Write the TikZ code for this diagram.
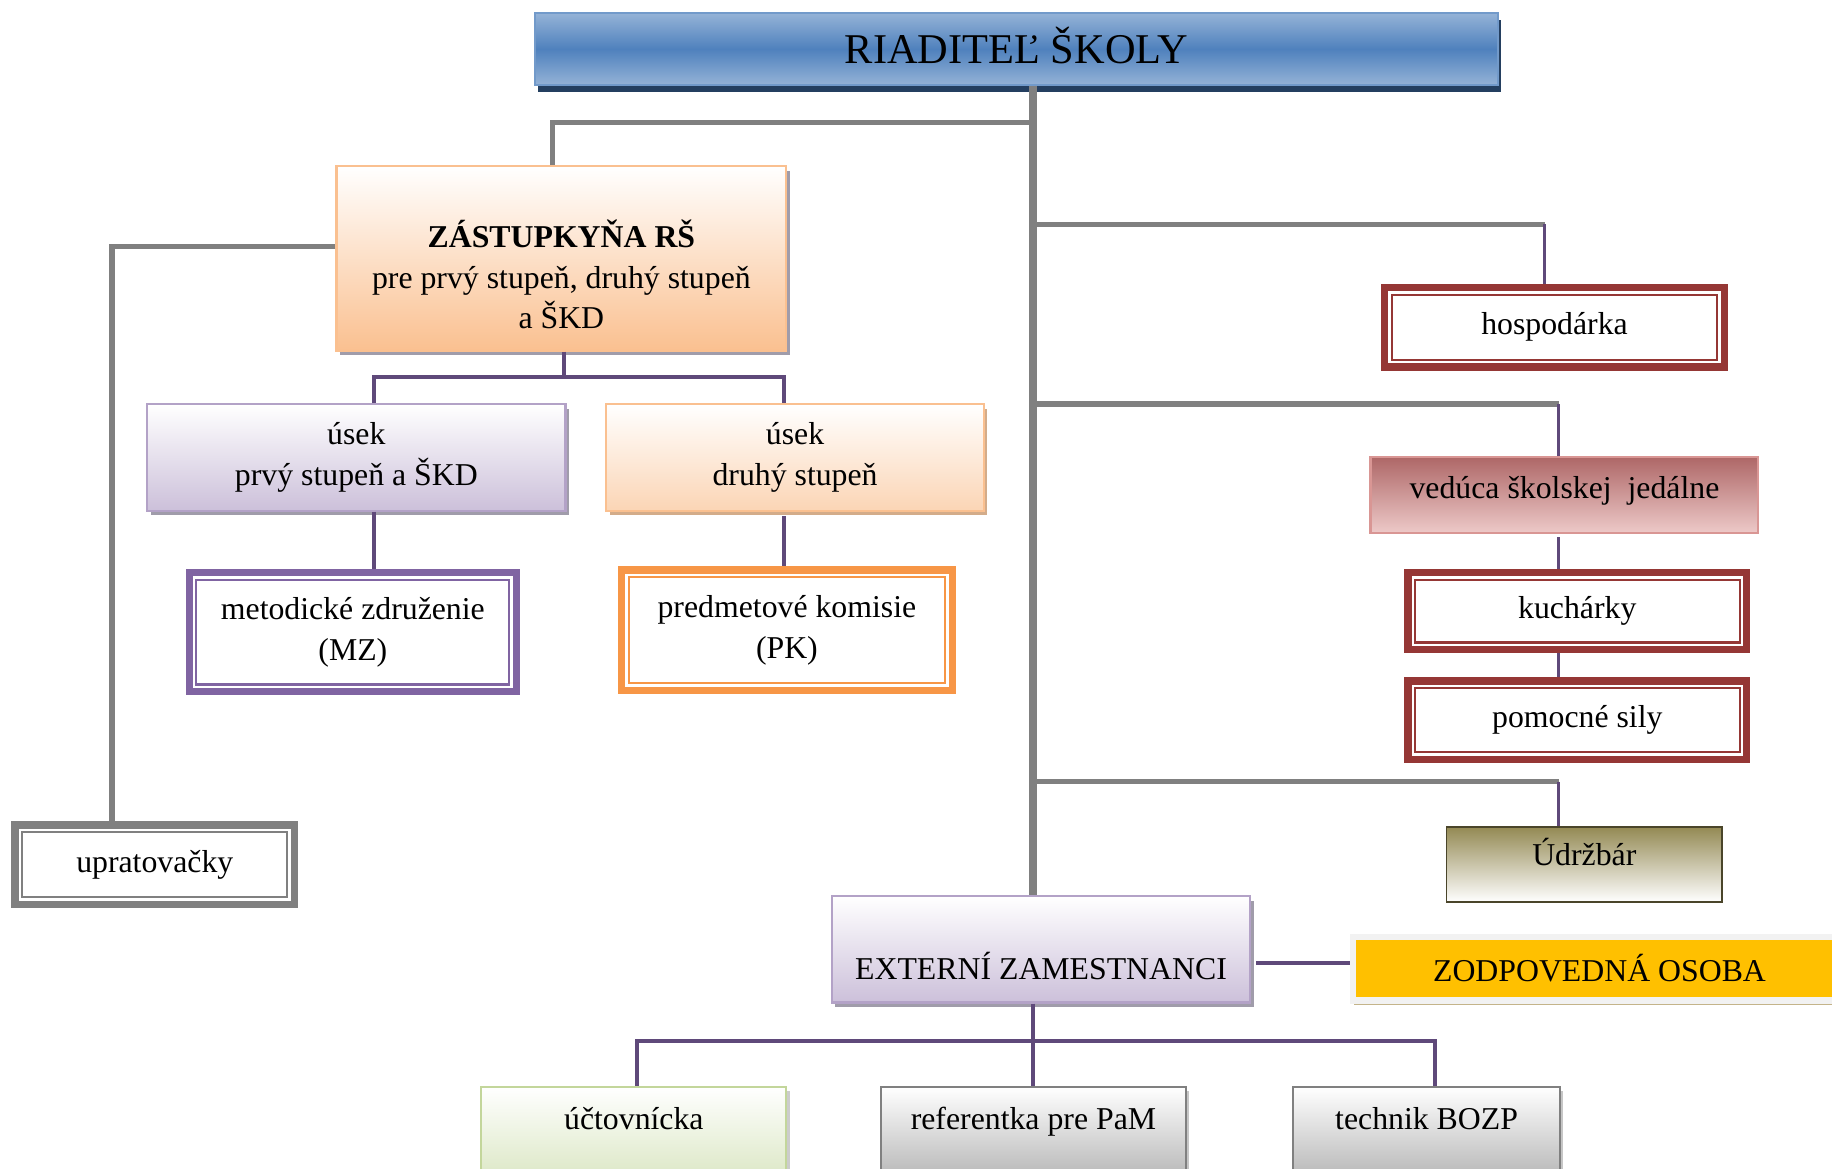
\documentclass[tikz,border=0pt]{standalone}
\usepackage{fontspec}
\setmainfont{Liberation Serif}
\usetikzlibrary{positioning, shadows}

\definecolor{titleblue}{HTML}{4F81BD}
\definecolor{titlelight}{HTML}{95B3D7}
\definecolor{titleshadow}{HTML}{243F60}
\definecolor{peach}{HTML}{FAC090}
\definecolor{peachlight}{HTML}{FBD5B5}
\definecolor{lavender}{HTML}{CCC0DA}
\definecolor{lavenderline}{HTML}{B3A2C7}
\definecolor{boxshadow}{HTML}{A09CAA}
\definecolor{tanshadow}{HTML}{D3AC8A}
\definecolor{violet}{HTML}{8064A2}
\definecolor{orange}{HTML}{F79646}
\definecolor{darkred}{HTML}{953735}
\definecolor{rosetop}{HTML}{AE6767}
\definecolor{rosebottom}{HTML}{EDC9C8}
\definecolor{roseline}{HTML}{D99694}
\definecolor{olive}{HTML}{948A54}
\definecolor{oliveline}{HTML}{4A452A}
\definecolor{gold}{HTML}{FFC000}
\definecolor{goldshadow}{HTML}{C4B48A}
\definecolor{greenlight}{HTML}{D7E4BD}
\definecolor{greenline}{HTML}{C3D69B}
\definecolor{midgray}{HTML}{808080}
\definecolor{purp}{HTML}{5F497A}

\def\px{0.0155cm}

\begin{document}
\begin{tikzpicture}[x=0.0155cm, y=-0.0155cm,
  font=\fontsize{12}{15.4}\selectfont,
  every node/.style={align=center, inner sep=0pt},
  sz/.style 2 args={minimum width=#1*\px, minimum height=#2*\px},
  shadebox/.style n args={3}{draw=#1, line width=0.8pt, top color=white, bottom color=#2,
    drop shadow={shadow xshift=1.3pt, shadow yshift=-1.8pt, fill=#3, opacity=1}},
  dblbox/.style={draw=#1, line width=2.8pt, fill=white,
    path picture={\draw[#1, line width=0.8pt]
      ([shift={(2.7pt,2.7pt)}]path picture bounding box.south west) rectangle
      ([shift={(-2.7pt,-2.7pt)}]path picture bounding box.north east);}},
  trunkline/.style={draw=midgray, line width=2.8pt},
  grayline/.style={draw=midgray, line width=2.1pt},
  purpline/.style={draw=purp, line width=1.5pt},
  thinline/.style={draw=purp, line width=1pt}]
\useasboundingbox (0,0) rectangle (1568,1000);

% director
\node[sz={824}{62}, draw=titleblue!80!white, line width=0.8pt,
  top color=titlelight, bottom color=titlelight, middle color=titleblue,
  drop shadow={shadow xshift=1.2pt, shadow yshift=-2.6pt, fill=titleshadow, opacity=1},
  font=\fontsize{16}{19}\selectfont, text depth=0.1cm] (title) at (870,42) {RIADITEĽ ŠKOLY};

% deputy and her sections
\node[sz={385}{158}, shadebox={peach}{peach}{boxshadow}] (zast) at (480.5,221)
  {\strut\\[-0.125cm]\textbf{ZÁSTUPKYŇA RŠ}\\pre prvý stupeň, druhý stupeň\\a ŠKD};
\node[sz={358}{91}, shadebox={lavenderline}{lavender}{boxshadow}] (usek1) at (305,391.5)
  {úsek\\prvý stupeň a ŠKD};
\node[sz={323}{91}, shadebox={peach}{peachlight}{tanshadow}] (usek2) at (680.5,391.5)
  {úsek\\druhý stupeň};
\node[sz={280}{102}, dblbox=violet] (mz) at (302,541) {metodické združenie\\(MZ)};
\node[sz={283}{103}, dblbox=orange] (pk) at (673.5,539.5) {predmetové komisie\\(PK)};
\node[sz={239}{68}, dblbox=midgray] (upr) at (132.5,740) {upratovačky};

% economy and kitchen
\node[sz={291}{68}, dblbox=darkred] (hosp) at (1330.5,280) {hospodárka};
\node[sz={332}{65}, draw=roseline, line width=0.8pt, top color=rosetop,
  bottom color=rosebottom, text depth=0.19cm] (ved) at (1339,423.5) {vedúca školskej\ \ jedálne};
\node[sz={290}{66}, dblbox=darkred] (kuch) at (1350,523) {kuchárky};
\node[sz={290}{67}, dblbox=darkred] (pom) at (1350,616.5) {pomocné sily};
\node[sz={236}{64}, draw=oliveline, line width=0.6pt, top color=olive,
  bottom color=white, text depth=0.33cm] (udr) at (1356,740) {Údržbár};

% external staff
\node[sz={358}{91}, shadebox={lavenderline}{lavender}{boxshadow}] (ext) at (891,812.5)
  {\strut\\[-0.125cm]EXTERNÍ ZAMESTNANCI};
\node[sz={422}{54}, draw=gray!10, line width=2.6pt, fill=gold,
  drop shadow={shadow xshift=0.5pt, shadow yshift=-2pt, fill=goldshadow, opacity=1}]
  (zod) at (1369,829) {ZODPOVEDNÁ OSOBA};
\node[sz={261}{90}, shadebox={greenline}{greenlight}{gray!40}] (ucto) at (542.5,975)
  {účtovnícka\\\mbox{}};
\node[sz={261}{90}, shadebox={gray}{gray!65}{gray!45}] (ref) at (884.5,975)
  {referentka pre PaM\\\mbox{}};
\node[sz={228}{90}, shadebox={gray}{gray!65}{gray!45}] (tech) at (1221,975)
  {technik BOZP\\\mbox{}};

% connectors
\coordinate (trunk) at (title.south -| 884,0);
\coordinate (bus1) at (483,323);
\coordinate (bus2) at (884,891);
\draw[trunkline] (trunk) -- (trunk |- ext.north);
\draw[grayline] (trunk |- 0,105) -| (473,0 |- zast.north);
\draw[grayline] (zast.west |- 0,211) -| (96,0 |- upr.north);
\draw[grayline] (trunk |- 0,192) -- (1322,192);
\draw[thinline] (1322,192) -- (1322,0 |- hosp.north);
\draw[grayline] (trunk |- 0,346) -- (1334,346);
\draw[thinline] (1334,346) -- (1334,0 |- ved.north);
\draw[thinline] (1334,460) -- (1334,0 |- kuch.north);
\draw[thinline] (1334,0 |- kuch.south) -- (1334,0 |- pom.north);
\draw[grayline] (trunk |- 0,669) -- (1334,669);
\draw[thinline] (1334,669) -- (1334,0 |- udr.north);

\draw[purpline] (zast.south -| bus1) -- (bus1);
\draw[purpline] (usek1.north -| 320,0) |- (bus1) -| (usek2.north -| 671,0);
\draw[purpline] (320,0 |- usek1.south) -- (320,0 |- mz.north);
\draw[purpline] (671,442) -- (671,0 |- pk.north);
\draw[purpline] (1075,824) -- (zod.west |- 0,824);
\draw[purpline] (ext.south -| bus2) -- (bus2 |- ref.north);
\draw[purpline] (545,0 |- ucto.north) |- (bus2) -| (1228,0 |- tech.north);
\end{tikzpicture}
\end{document}
